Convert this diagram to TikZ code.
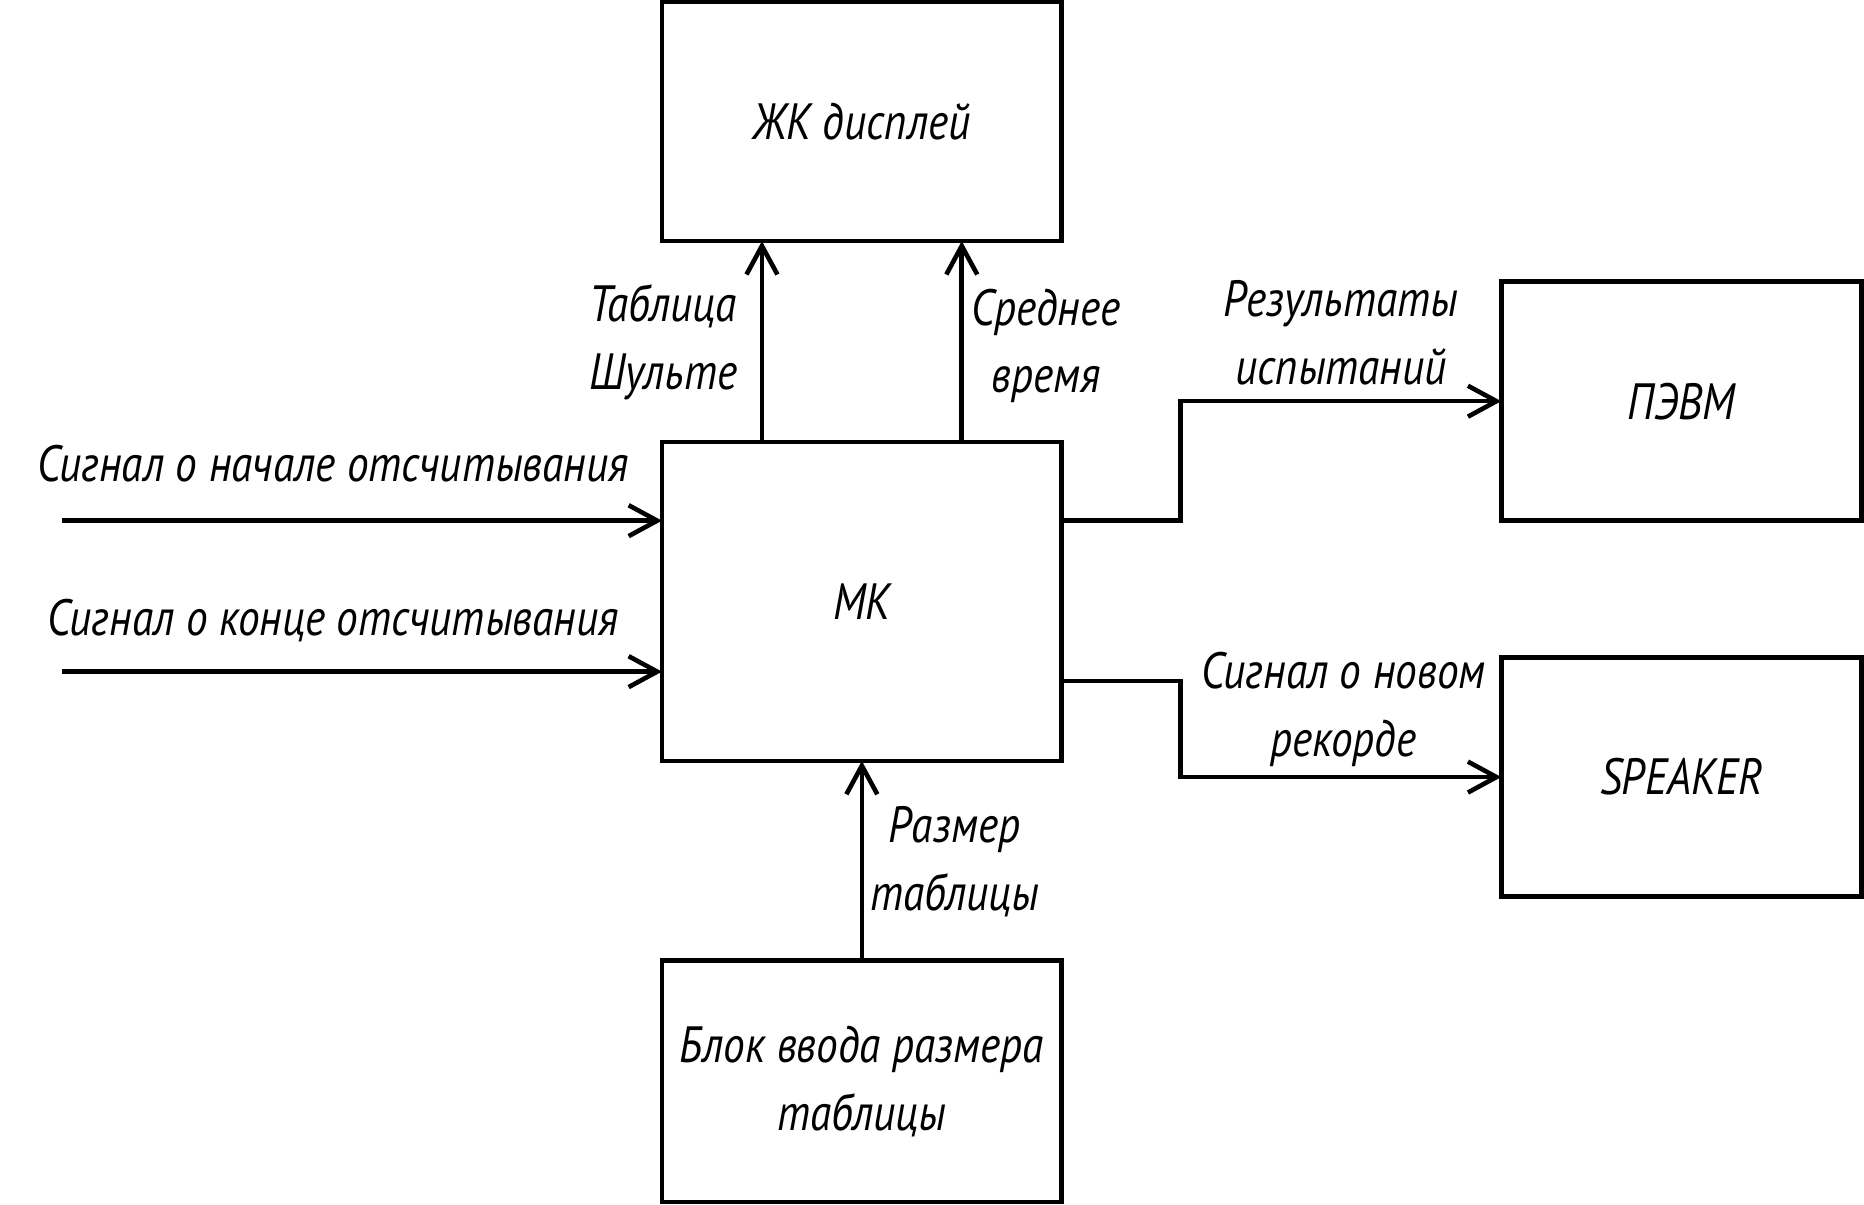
\documentclass[tikz,border=0pt]{standalone}
\usepackage{fontspec}
\setmainfont{PT Sans}[FakeStretch=0.85]
\usepackage{tikz}
\usetikzlibrary{arrows.meta, positioning, calc}

\begin{document}
\begin{tikzpicture}[
    x=0.01cm, y=-0.01cm,
    font=\fontsize{12.2}{16.2}\selectfont\itshape,
    block/.style={rectangle, draw=black, line width=1.1pt, inner sep=0pt, outer sep=0pt, minimum width=3.36cm, minimum height=2.01cm, align=center},
    side/.style={block, minimum width=3.03cm},
    arr/.style={line width=1.1pt, -{Straight Barb[length=0.24cm, width=0.26cm]}},
    sig/.style={align=center, inner sep=0pt}
]
\useasboundingbox (0,0) rectangle (1568,1013);

% MK (centre)
\node[block, minimum height=2.68cm] (mk) at (725,506) {МК};
\node[block, above=1.69cm of mk] (lcd) {ЖК дисплей};
\node[block, minimum height=2.03cm, below=1.68cm of mk] (keys) {Блок ввода размера\\таблицы};

% PC and speaker (right side)
\node[side] (pc) at (1414.5,337.5) {ПЭВМ};
\node[side, below=1.15cm of pc] (spk) {SPEAKER};

% inputs (left side)
\coordinate (in1) at (52,438);
\coordinate (in2) at (52,565);
\draw[arr] (in1) -- (in1 -| mk.west);
\draw[arr] (in2) -- (in2 -| mk.west);
\node[sig] (in1-label) at (280,390) {Сигнал о начале отсчитывания};
\node[sig] (in2-label) at (280,522) {Сигнал о конце отсчитывания};

% to display
\draw[arr] ([xshift=0.84cm]mk.north west) -- ([xshift=0.84cm]lcd.south west);
\draw[arr] ([xshift=-0.84cm]mk.north east) -- ([xshift=-0.84cm]lcd.south east);
\node[sig, align=left] (tab-label) at (558,288) {Таблица\\Шульте};
\node[sig] (avg-label) at (880,291) {Среднее\\время};

% to PC and speaker
\draw[arr] (in1 -| mk.east) -- ++(100,0) |- (pc.west);
\node[sig] (res-label) at (1128,280) {Результаты\\испытаний};
\draw[arr] ($(mk.east)+(0,67)$) -- ++(100,0) |- (spk.west);
\node[sig] (rec-label) at (1130,597) {Сигнал о новом\\рекорде};

% table size input
\draw[arr] (keys.north) -- (mk.south);
\node[sig] (size-label) at (803,725) {Размер\\таблицы};

\end{tikzpicture}
\end{document}
